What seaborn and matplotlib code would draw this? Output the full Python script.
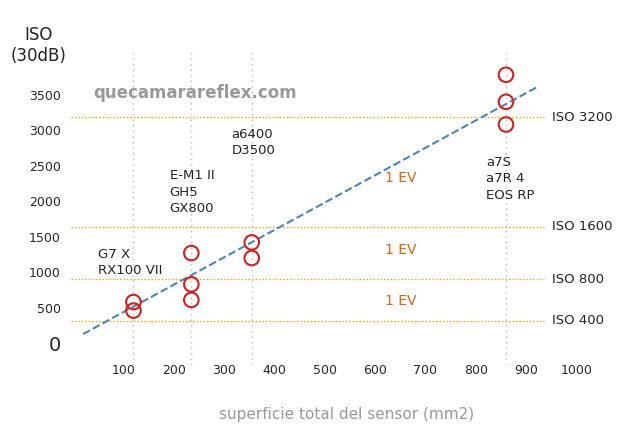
import matplotlib
matplotlib.use("Agg")
import matplotlib.pyplot as plt
import seaborn as sns
import pandas as pd

# sensor points
area = [120, 120, 235, 235, 235, 355, 355, 860, 860, 860]
iso = [580, 460, 1270, 830, 610, 1420, 1200, 3780, 3400, 3080]
df = pd.DataFrame({"area": area, "iso": iso})

cam_x = [120, 235, 355, 860]
cam_labels = ["G7 X\nRX100 VII", "E-M1 II\nGH5\nGX800", "a6400\nD3500", "a7S\na7R 4\nEOS RP"]
cam_text_x = [50, 192, 315, 820]
cam_text_y = [930, 1800, 2620, 1990]

iso_levels = [3180, 1640, 900, 320]
iso_names = ["ISO 3200", "ISO 1600", "ISO 800", "ISO 400"]
ev_y = [2330, 1320, 590]

trend_x = [20, 920]
trend_y = [130, 3600]

sns.set_style("white")
fig = plt.figure(figsize=(6.41, 4.34), dpi=100)
ax = fig.add_axes([0.11, 0.16, 0.86, 0.72])

for x in cam_x:
    ax.axvline(x, color="#bbbbbb", ls=(0, (1, 3)), lw=1, zorder=0)
ax.hlines(iso_levels, -5, 935, color="#f0a000", ls=(0, (1, 1.5)), lw=1, zorder=1)

sns.lineplot(x=trend_x, y=trend_y, ax=ax, color="#4a86b8", ls="--", lw=1.5)
sns.scatterplot(data=df, x="area", y="iso", ax=ax, s=110, facecolor="none",
                edgecolor="#d02020", linewidth=1.5, zorder=5)

for x, t, y in zip(cam_text_x, cam_labels, cam_text_y):
    ax.text(x, y, t, fontsize=9.5, va="bottom", color="#222222", linespacing=1.35)
for y, t in zip(iso_levels, iso_names):
    ax.text(952, y, t, fontsize=9.5, va="center", color="#222222", clip_on=False)
for y in ev_y:
    ax.text(650, y, "1 EV", color="#e06010", fontsize=10, va="center", ha="center")

ax.text(40, 3450, "quecamarareflex.com", color="#999999", fontsize=12, fontweight="bold")

ax.set_xlim(-5, 1090)
ax.set_ylim(-300, 4100)
ax.set_xticks(range(100, 1001, 100))
ax.set_yticks(range(0, 3501, 500))
ylabels = [str(v) for v in range(0, 3501, 500)]
ax.set_yticklabels(ylabels, fontsize=9)
ax.get_yticklabels()[0].set_fontsize(14)
ax.set_xticklabels([str(v) for v in range(100, 1001, 100)], fontsize=9)
ax.tick_params(axis="x", pad=-4)
for s in ax.spines.values():
    s.set_visible(False)
ax.set_xlabel("superficie total del sensor (mm2)", color="#999999", fontsize=11, labelpad=22)
ax.set_ylabel("")
fig.text(0.06, 0.86, "ISO\n(30dB)", fontsize=12, ha="center", color="#222222")

fig.savefig("out.png", dpi=100)
